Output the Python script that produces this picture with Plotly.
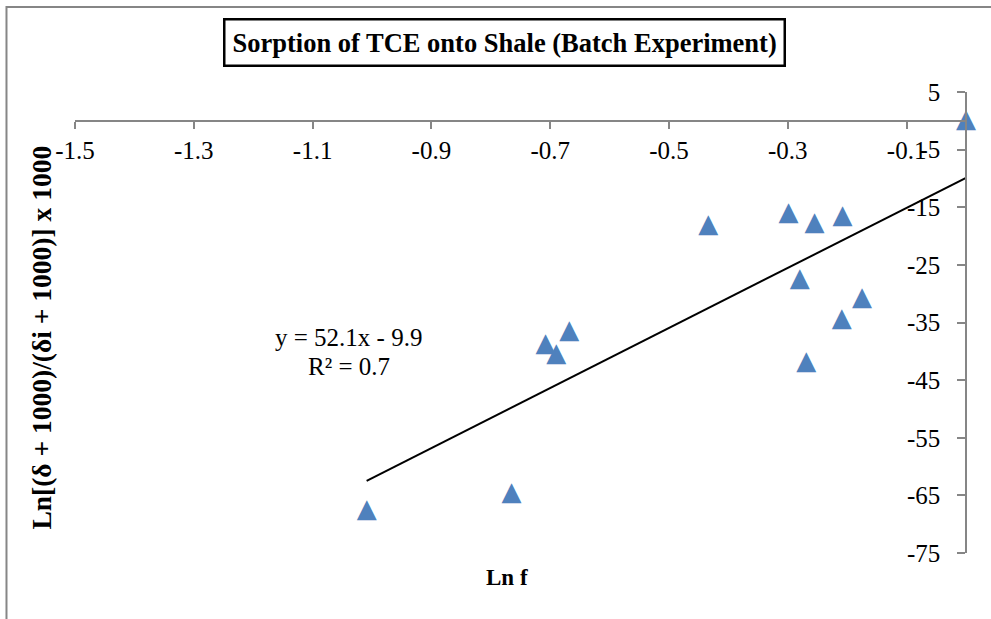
import plotly.graph_objects as go

# Sorption of TCE onto shale: Ln f vs. isotope shift term
ln_f = [0.0, -1.009, -0.765, -0.708, -0.690, -0.668, -0.434,
        -0.299, -0.255, -0.208, -0.280, -0.175, -0.209, -0.269]
ln_ratio = [0.1, -67.6, -64.6, -38.9, -40.6, -36.6, -18.1,
            -16.0, -17.8, -16.6, -27.6, -30.9, -34.4, -41.9]

# Linear trendline reported on the chart
slope = 52.1
intercept = -9.9
r_squared = 0.7

x_tickvals = [-1.5, -1.3, -1.1, -0.9, -0.7, -0.5, -0.3, -0.1]
x_ticktext = ["-1.5", "-1.3", "-1.1", "-0.9", "-0.7", "-0.5", "-0.3", "-0.1"]
y_tickvals = [5, -5, -15, -25, -35, -45, -55, -65, -75]
y_ticktext = ["5", "-5", "-15", "-25", "-35", "-45", "-55", "-65", "-75"]

FONT = "Liberation Serif"
AXIS_GREY = "#868686"
MARKER_BLUE = "#4F81BD"

x_min, x_max = -1.5, 0.0
y_min, y_max = -75, 5

fig = go.Figure()

# upright triangle glyphs centred on each measurement
fig.add_trace(go.Scatter(
    x=ln_f, y=ln_ratio, mode="text", cliponaxis=False,
    text=["▲"] * len(ln_f), textposition="middle center",
    textfont=dict(family="DejaVu Sans", size=26, color=MARKER_BLUE),
    hoverinfo="x+y", showlegend=False,
))

trend_x = [min(ln_f), max(ln_f)]
trend_y = [slope * v + intercept for v in trend_x]
fig.add_trace(go.Scatter(
    x=trend_x, y=trend_y, mode="lines",
    line=dict(color="black", width=2),
    hoverinfo="skip", showlegend=False,
))

# x axis crosses at y = 0, y axis crosses at x = 0
x_cross = (0 - y_min) / (y_max - y_min)

fig.update_layout(
    width=991, height=619,
    margin=dict(l=75, r=25, t=92, b=66),
    paper_bgcolor="white", plot_bgcolor="white",
    font=dict(family=FONT, size=25, color="black"),
    showlegend=False,
    xaxis=dict(
        range=[x_min, x_max], anchor="free", position=x_cross, side="bottom",
        tickvals=x_tickvals, ticktext=x_ticktext,
        ticks="outside", ticklen=7, tickwidth=1.5, tickcolor=AXIS_GREY,
        showline=True, linecolor=AXIS_GREY, linewidth=1.5,
        showgrid=False, zeroline=False, ticklabelstandoff=0,
        tickfont=dict(family=FONT, size=25, color="black"),
    ),
    yaxis=dict(
        range=[y_min, y_max], anchor="free", position=1, side="left",
        tickvals=y_tickvals, ticktext=y_ticktext,
        ticks="outside", ticklen=8, tickwidth=1.5, tickcolor=AXIS_GREY,
        showline=True, linecolor=AXIS_GREY, linewidth=1.5,
        showgrid=False, zeroline=False, ticklabelstandoff=12,
        tickfont=dict(family=FONT, size=25, color="black"),
    ),
)

# chart area frame
fig.add_shape(type="rect", xref="paper", yref="paper",
              x0=-0.0769, x1=1.06, y0=-0.25, y1=1.1844,
              line=dict(color=AXIS_GREY, width=2), fillcolor="rgba(0,0,0,0)",
              layer="below")

# boxed title
fig.add_annotation(
    text="Sorption of TCE onto Shale (Batch Experiment)",
    xref="paper", yref="paper", x=0.482, y=1.108,
    xanchor="center", yanchor="middle", showarrow=False,
    font=dict(family=FONT, size=26.5, color="black", weight="bold"),
    bordercolor="black", borderwidth=2.5, borderpad=7, bgcolor="white",
)

# axis titles
fig.add_annotation(
    text="Ln f", xref="paper", yref="paper", x=0.4848, y=-0.054,
    xanchor="center", yanchor="middle", showarrow=False,
    font=dict(family=FONT, size=23, color="black", weight="bold"),
)
fig.add_annotation(
    text="Ln[(δ + 1000)/(δi + 1000)] x 1000", xref="paper", yref="paper",
    x=-0.038, y=0.4675, textangle=-90,
    xanchor="center", yanchor="middle", showarrow=False,
    font=dict(family=FONT, size=27.5, color="black", weight="bold"),
)

# trendline equation label
fig.add_annotation(
    text=f"y = {slope}x - {abs(intercept)}", x=-1.039, y=-37.65,
    xanchor="center", yanchor="middle", showarrow=False,
    font=dict(family=FONT, size=25, color="black"),
)
fig.add_annotation(
    text=f"R² = {r_squared}", x=-1.039, y=-42.7,
    xanchor="center", yanchor="middle", showarrow=False,
    font=dict(family=FONT, size=25, color="black"),
)

fig.write_html("out.html")
